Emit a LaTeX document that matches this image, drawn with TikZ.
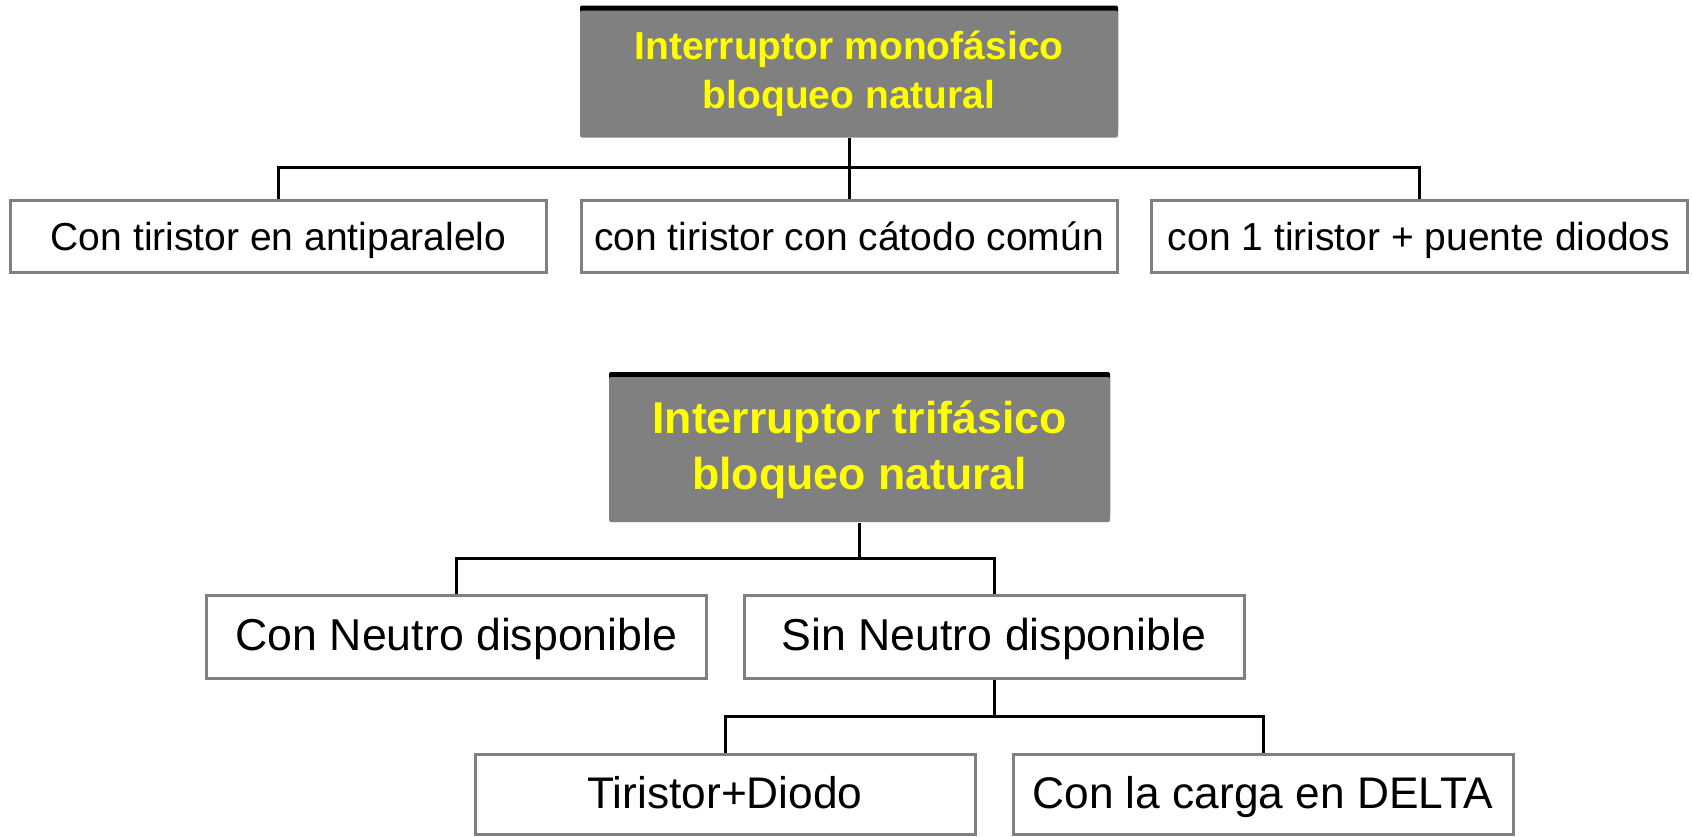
\documentclass[tikz,border=0pt]{standalone}
\usepackage{fontspec}
\setmainfont{Liberation Sans}
\usetikzlibrary{shadows}
\definecolor{titlegray}{RGB}{128,128,128}
\definecolor{titleyellow}{RGB}{255,255,0}
\definecolor{boxgray}{RGB}{128,128,128}

\begin{document}
\begin{tikzpicture}
    \useasboundingbox (0,0) rectangle (16.92,-8.36);

    \begin{scope}[every node/.style={rectangle, fill=titlegray, rounded corners=0.02cm, text=titleyellow, align=center, inner sep=0pt, drop shadow={shadow xshift=0cm, shadow yshift=0.05cm, opacity=1, fill=black}}]
        \node[minimum width=5.38cm, minimum height=1.27cm, font=\bfseries\fontsize{11.1}{13.9}\selectfont] (1) at (8.49,-0.74) {Interruptor monofásico\\bloqueo natural};
        \node[minimum width=5.01cm, minimum height=1.45cm, font=\bfseries\fontsize{12.7}{15.9}\selectfont] (5) at (8.595,-4.495) {Interruptor trifásico\\bloqueo natural};
    \end{scope}

    \begin{scope}[every node/.style={rectangle, fill=white, draw=boxgray, line width=0.03cm, inner sep=0pt, text height=0.85em, text depth=0.04em}]
        \node[minimum width=5.36cm, minimum height=0.72cm, font=\fontsize{11.1}{13.3}\selectfont] (2) at (2.785,-2.36) {Con tiristor en antiparalelo};
        \node[minimum width=5.36cm, minimum height=0.72cm, font=\fontsize{11.1}{13.3}\selectfont] (3) at (8.49,-2.36) {con tiristor con cátodo común};
        \node[minimum width=5.36cm, minimum height=0.72cm, font=\fontsize{11.1}{13.3}\selectfont] (4) at (14.19,-2.36) {con 1 tiristor + puente diodos};

        \node[minimum width=5.0cm, minimum height=0.83cm, font=\fontsize{12.7}{15}\selectfont] (6) at (4.565,-6.365) {Con Neutro disponible};
        \node[minimum width=5.0cm, minimum height=0.83cm, font=\fontsize{12.7}{15}\selectfont] (7) at (9.94,-6.365) {Sin Neutro disponible};

        \node[minimum width=5.0cm, minimum height=0.80cm, font=\fontsize{12.6}{15}\selectfont] (8) at (7.25,-7.94) {Tiristor+Diodo};
        \node[minimum width=5.0cm, minimum height=0.80cm, font=\fontsize{12.6}{15}\selectfont] (9) at (12.63,-7.94) {Con la carga en DELTA};
    \end{scope}

    \coordinate (1b) at (8.49,-1.67);
    \coordinate (5b) at (8.595,-5.58);
    \coordinate (7b) at (9.94,-7.16);

    \begin{scope}[line width=0.03cm, every edge/.style={draw, line width=0.03cm}]
        \path [-] (1) edge (3);
        \path [-] (5) edge (5b);
        \path [-] (7) edge (7b);
        \draw (2.north) |- (1b) -| (4.north);
        \draw (6.north) |- (5b) -| (7.north);
        \draw (8.north) |- (7b) -| (9.north);
    \end{scope}
\end{tikzpicture}
\end{document}
